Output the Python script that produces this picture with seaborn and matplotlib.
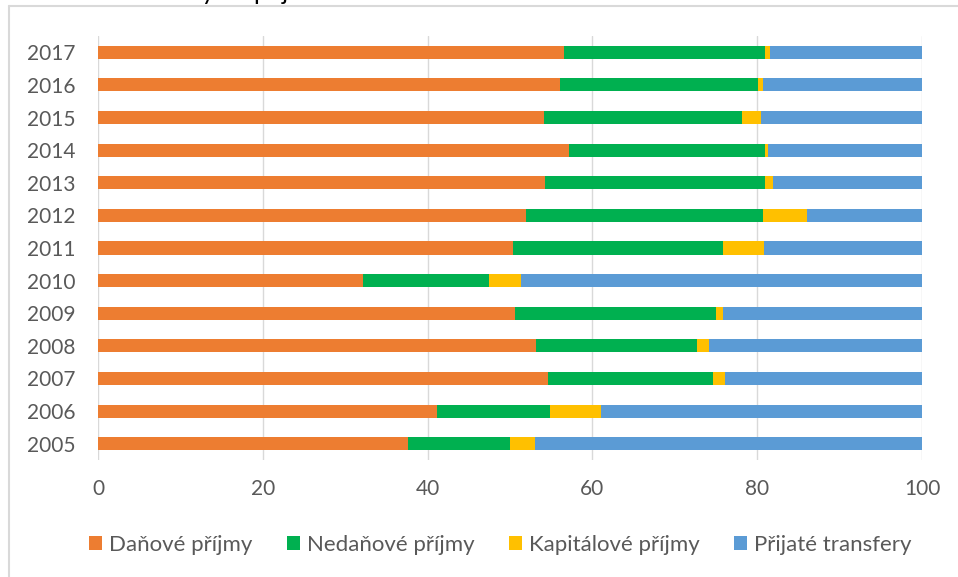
import matplotlib
matplotlib.use("Agg")
import matplotlib.pyplot as plt
from matplotlib.lines import Line2D
from matplotlib.patches import Patch
import pandas as pd
import seaborn as sns

# Shares of municipal revenue by type (% of total), top row = latest year
years = ["2017", "2016", "2015", "2014", "2013", "2012", "2011",
         "2010", "2009", "2008", "2007", "2006", "2005"]
danove = [56.5, 56.1, 54.1, 57.2, 54.3, 51.9, 50.4, 32.2, 50.6, 53.1, 54.6, 41.1, 37.6]
nedanove = [24.4, 24.0, 24.1, 23.7, 26.6, 28.8, 25.4, 15.3, 24.4, 19.6, 20.0, 13.8, 12.4]
kapitalove = [0.6, 0.6, 2.3, 0.4, 1.0, 5.3, 5.0, 3.8, 0.8, 1.4, 1.5, 6.1, 3.0]
transfery = [18.5, 19.3, 19.5, 18.7, 18.1, 14.0, 19.2, 48.7, 24.2, 25.9, 23.9, 39.0, 47.0]

series_names = ["Daňové příjmy", "Nedaňové příjmy", "Kapitálové příjmy", "Přijaté transfery"]
series_colors = ["#ED7D31", "#00B050", "#FFC000", "#5B9BD5"]
x_ticks = [0, 20, 40, 60, 80, 100]

sns.set_theme(style="white")
plt.rcParams["font.family"] = ["Lato", "DejaVu Sans"]

df = pd.DataFrame({
    "Rok": years,
    series_names[0]: danove,
    series_names[1]: nedanove,
    series_names[2]: kapitalove,
    series_names[3]: transfery,
})
cumulative = df[series_names].cumsum(axis=1)

W, H = 958, 577
fig = plt.figure(figsize=(W / 100, H / 100), dpi=100)
ax = fig.add_axes([98 / W, 1 - 460 / H, 824 / W, 424 / H])

# Stacked bars: draw the running totals from the outermost layer inwards
for name, color in reversed(list(zip(series_names, series_colors))):
    sns.barplot(x=cumulative[name], y=df["Rok"], order=years, orient="h",
                color=color, saturation=1, width=0.4, linewidth=0, ax=ax)

ax.set_xlim(0, 100)
ax.set_ylim(len(years) - 0.5, -0.5)
ax.set_xticks(x_ticks)
ax.set_xlabel("")
ax.set_ylabel("")
for side in ["top", "right", "bottom", "left"]:
    ax.spines[side].set_visible(False)
ax.set_axisbelow(True)
ax.xaxis.grid(True, color="#D9D9D9", linewidth=1.0)
ax.yaxis.grid(False)
ax.tick_params(axis="both", length=0, labelsize=15, labelcolor="#595959")
ax.tick_params(axis="y", pad=16)
ax.tick_params(axis="x", pad=14)

handles = [Patch(facecolor=c, edgecolor="none", label=n)
           for n, c in zip(series_names, series_colors)]
fig.legend(handles=handles, loc="center", bbox_to_anchor=(500 / W, 1 - 545 / H),
           ncol=4, frameon=False, fontsize=16, labelcolor="#595959",
           handlelength=0.6, handleheight=0.6, handletextpad=0.3,
           columnspacing=1.55)

# Chart frame (top and left edges)
frame = dict(transform=fig.transFigure, color="#D9D9D9", linewidth=1.5)
fig.add_artist(Line2D([9 / W, 1], [1 - 6 / H, 1 - 6 / H], **frame))
fig.add_artist(Line2D([9 / W, 9 / W], [1 - 6 / H, 0], **frame))

# Title line running above the frame
fig.text(240 / W, 1.0, "Struktura celkových", ha="right", va="baseline",
         fontsize=18, color="black")
fig.text(253 / W, 1.0, "příjmů", ha="left", va="baseline",
         fontsize=18, color="black")

fig.savefig("out.png", dpi=100)
